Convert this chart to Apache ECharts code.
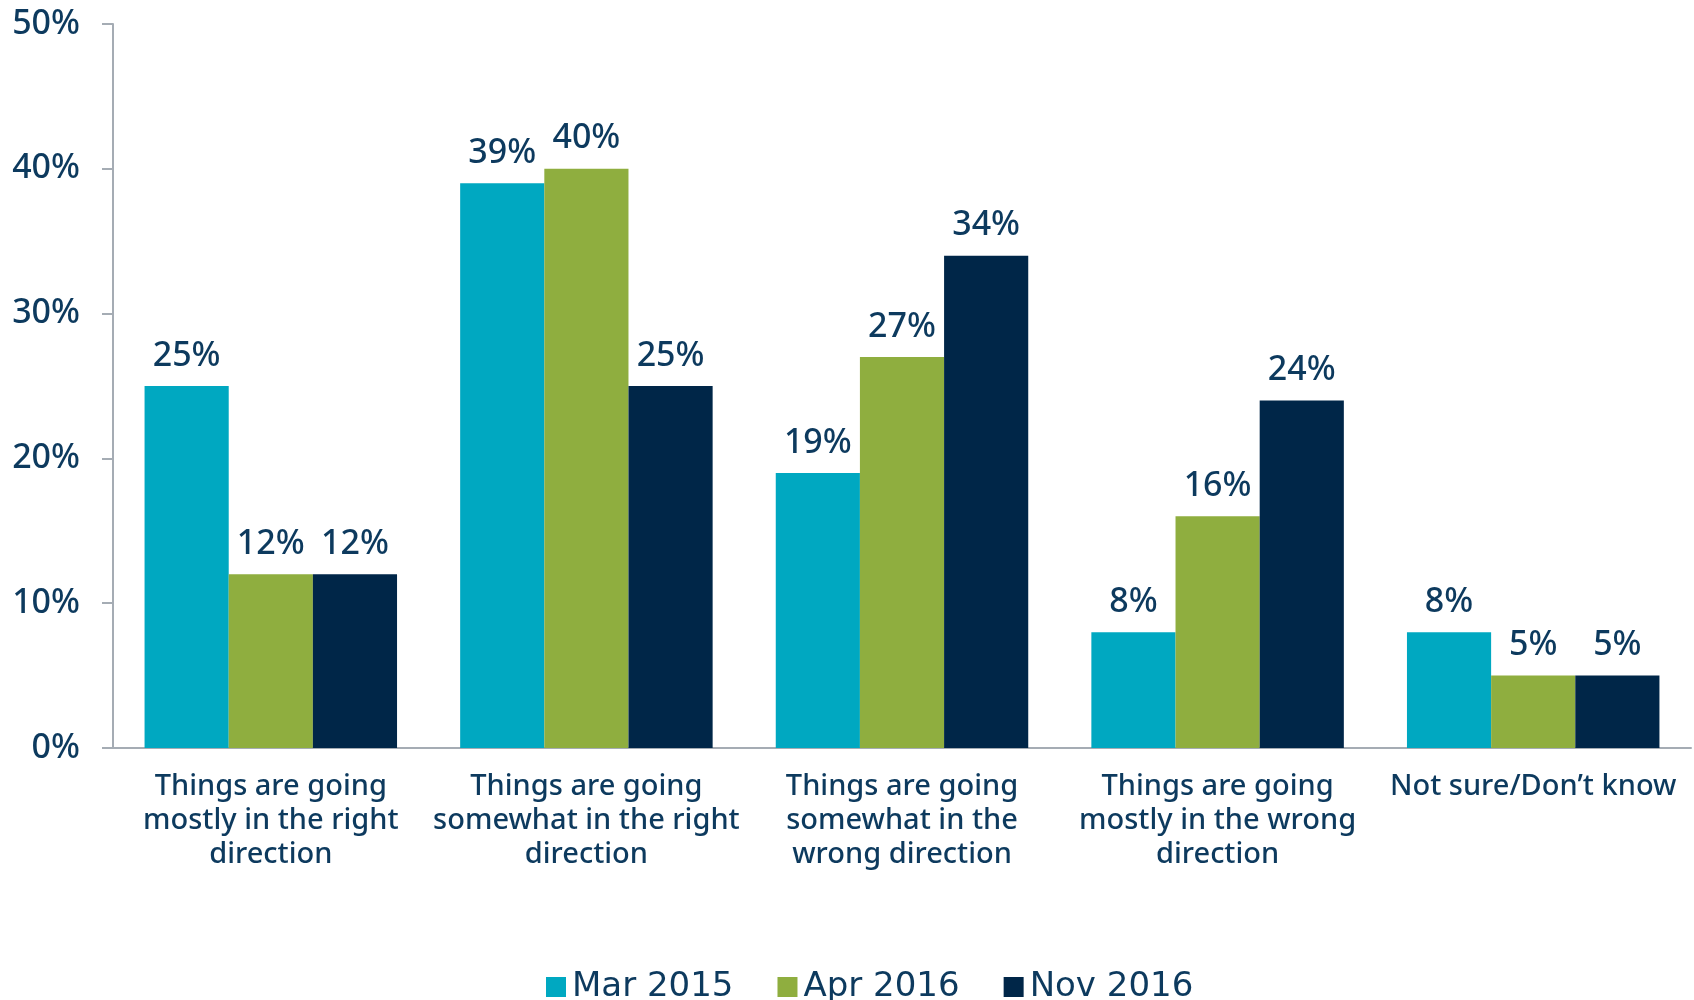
<!DOCTYPE html>
<html>
<head>
<meta charset="utf-8">
<script src="https://cdn.jsdelivr.net/npm/echarts@6/dist/echarts.min.js"></script>
<style>
  html, body { margin: 0; padding: 0; background: #fff; }
  #chart { width: 1694px; height: 1000px; }
</style>
</head>
<body>
<div id="chart"></div>
<script>
// 类别与数值
const categories = [
    "Things are going\nmostly in the right\ndirection",
    "Things are going\nsomewhat in the right\ndirection",
    "Things are going\nsomewhat in the\nwrong direction",
    "Things are going\nmostly in the wrong\ndirection",
    "Not sure/Don\u2019t know"
];
const seriesNames = ["Mar 2015", "Apr 2016", "Nov 2016"];
const mar2015 = [25, 39, 19, 8, 8];
const apr2016 = [12, 40, 27, 16, 5];
const nov2016 = [12, 25, 34, 24, 5];
const yTicks = [0, 10, 20, 30, 40, 50];

const colors = ["#00A8C1", "#8FAE3F", "#002648"];
const textColor = "#0D3A5E";
const axisColor = "#A5ACB4";
const font = "Noto Sans";

let myChart = echarts.init(document.getElementById("chart"));

function makeSeries(name, data, color) {
    return {
        name: name,
        type: "bar",
        data: data,
        barGap: "0%",
        barCategoryGap: "20%",
        itemStyle: { color: color },
        label: {
            show: true,
            position: "top",
            distance: 13,
            formatter: "{c}%",
            color: textColor,
            fontSize: 34,
            fontFamily: font,
            fontWeight: 500
        }
    };
}

let option = {
    animation: false,
    backgroundColor: "#fff",
    textStyle: { fontFamily: font },
    grid: {
        left: 113,
        right: 3,
        top: 24,
        bottom: 252,
        containLabel: false
    },
    legend: {
        left: 541,
        top: 964,
        itemWidth: 20,
        itemHeight: 20,
        itemGap: 44,
        icon: "rect",
        data: seriesNames,
        textStyle: {
            color: textColor,
            fontSize: 34,
            lineHeight: 36,
            fontFamily: "DejaVu Sans",
            padding: [0, 0, 0, 1]
        }
    },
    xAxis: {
        type: "category",
        data: categories,
        axisTick: { show: false },
        axisLine: { lineStyle: { color: axisColor, width: 2 } },
        axisLabel: {
            interval: 0,
            margin: 22,
            color: textColor,
            fontSize: 29,
            lineHeight: 34,
            fontFamily: font,
            fontWeight: 500
        }
    },
    yAxis: {
        type: "value",
        min: yTicks[0],
        max: yTicks[yTicks.length - 1],
        interval: 10,
        splitLine: { show: false },
        axisLine: { show: true, lineStyle: { color: axisColor, width: 2 } },
        axisTick: { show: true, length: 11, lineStyle: { color: axisColor, width: 2 } },
        axisLabel: {
            margin: 33,
            color: textColor,
            fontSize: 34,
            fontFamily: font,
            fontWeight: 500,
            formatter: "{value}%"
        }
    },
    series: [
        makeSeries(seriesNames[0], mar2015, colors[0]),
        makeSeries(seriesNames[1], apr2016, colors[1]),
        makeSeries(seriesNames[2], nov2016, colors[2])
    ]
};
myChart.setOption(option);
</script>
</body>
</html>
